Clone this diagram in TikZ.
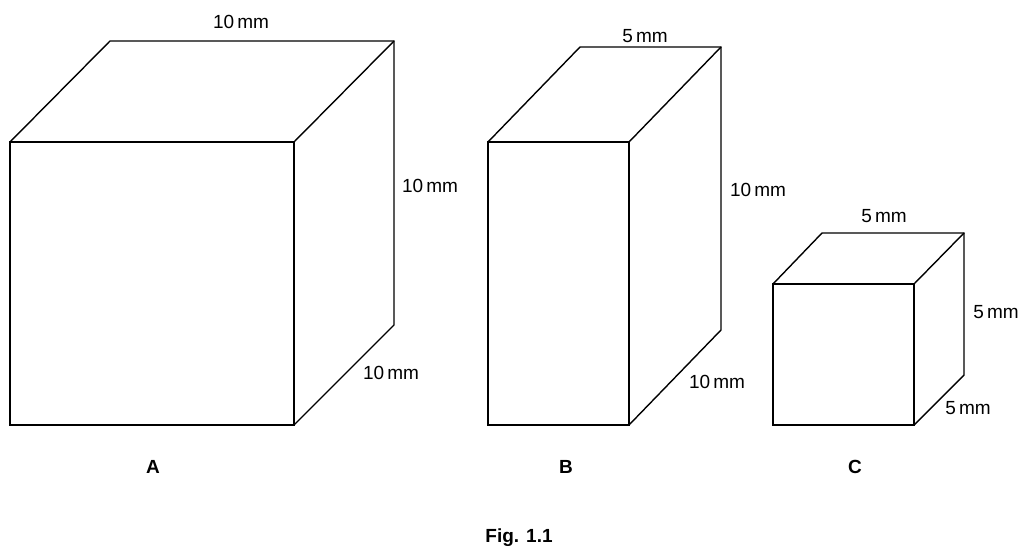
\documentclass[tikz,border=0pt]{standalone}
\usepackage{fontspec}
\setmainfont{Liberation Sans}
\begin{document}
\begin{tikzpicture}[x=1pt,y=-1pt,line width=1.4pt,line join=miter,
 lab/.style={font=\fontsize{19}{22}\selectfont,inner sep=0pt},
 bl/.style={font=\fontsize{19}{22}\selectfont\bfseries,inner sep=0pt}]
\useasboundingbox (0,0) rectangle (1031,548);
% A
\draw (10,142) rectangle (294,425);
\draw (10,142) -- (110,41) -- (394,41) -- (394,325) -- (294,425);
\draw (294,142) -- (394,41);
% B
\draw (488,142) rectangle (629,425);
\draw (488,142) -- (580,47) -- (721,47) -- (721,330) -- (629,425);
\draw (629,142) -- (721,47);
% C
\draw (773,284) rectangle (914,425);
\draw (773,284) -- (822,233) -- (964,233) -- (964,375) -- (914,425);
\draw (914,284) -- (964,233);
\node[lab] (la1) at (241,22) {10\,mm};
\node[lab] (la2) at (430,186) {10\,mm};
\node[lab] (la3) at (391,373) {10\,mm};
\node[lab] (lb1) at (645,36) {5\,mm};
\node[lab] (lb2) at (758,190) {10\,mm};
\node[lab] (lb3) at (717,382) {10\,mm};
\node[lab] (lc1) at (884,216) {5\,mm};
\node[lab] (lc2) at (996,312) {5\,mm};
\node[lab] (lc3) at (968,408) {5\,mm};
\node[bl] (A) at (153,467) {A};
\node[bl] (B) at (566,467) {B};
\node[bl] (C) at (855,467) {C};
\node[bl] (fig) at (519,538) {Fig. 1.1};
\end{tikzpicture}
\end{document}
